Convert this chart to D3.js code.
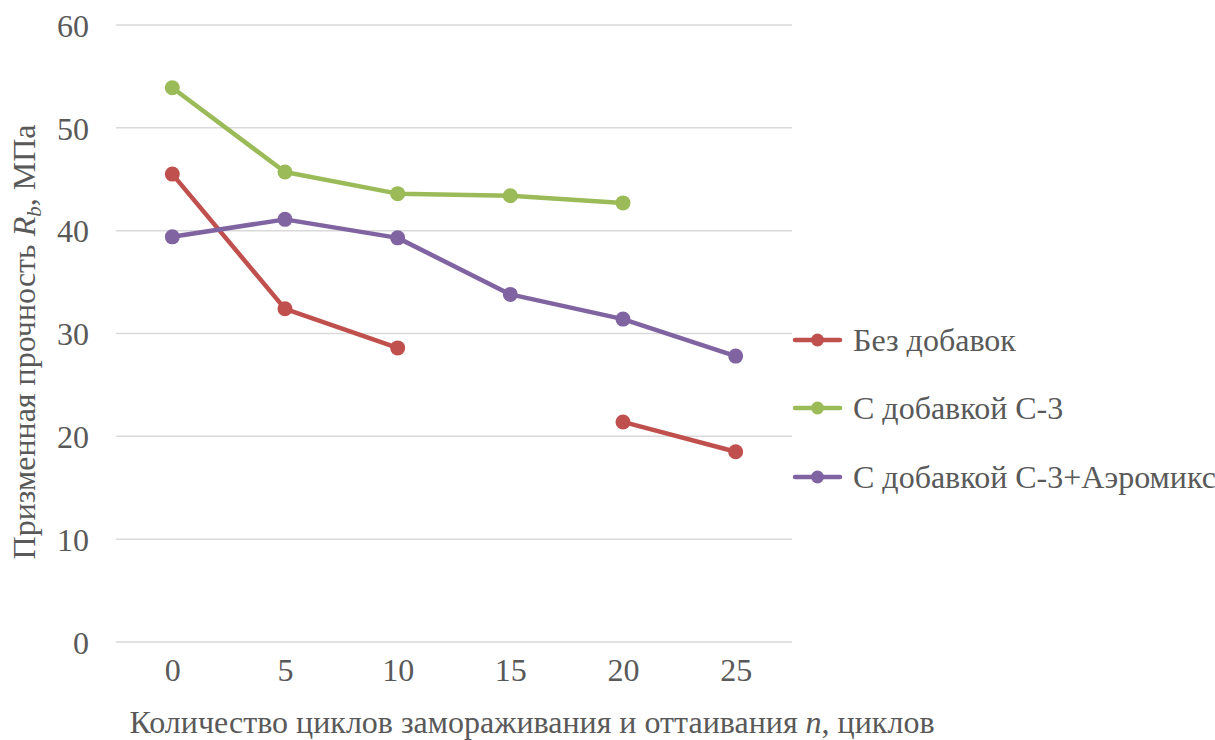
<!DOCTYPE html>
<html><head><meta charset="utf-8">
<script src="https://cdn.jsdelivr.net/npm/d3@7"></script>
<style>body{margin:0;background:#fff}svg{display:block}</style>
</head><body><svg id="c" width="1215" height="740"></svg>
<script>
const categories = ["0","5","10","15","20","25"];
const yTicks = [0,10,20,30,40,50,60];
const seriesNames = ["Без добавок","С добавкой С-3","С добавкой С-3+Аэромикс"];
const seriesColors = ["#C0504D","#9BBB59","#8064A2"];
const bezDobavok = [45.5,32.4,28.6,null,21.4,18.5];
const sDobavkoiC3 = [53.9,45.7,43.6,43.4,42.7,null];
const sDobavkoiC3Aero = [39.4,41.1,39.3,33.8,31.4,27.8];
const seriesValues = [bezDobavok,sDobavkoiC3,sDobavkoiC3Aero];

const FONT = "'Liberation Serif'";
const TXT = "#595959";
const FS = 32;
const svg = d3.select("#c");
const m = {l:116, r:792, t:25, b:642};
const x = d3.scalePoint().domain(categories).range([m.l,m.r]).padding(0.5);
const y = d3.scaleLinear().domain([0,60]).range([m.b,m.t]);

svg.append("g").selectAll("line").data(yTicks).join("line")
  .attr("x1",m.l).attr("x2",m.r).attr("y1",d=>y(d)).attr("y2",d=>y(d))
  .attr("stroke","#D9D9D9").attr("stroke-width",1.5);

const yAxis = d3.axisLeft(y).tickValues(yTicks).tickSize(0).tickPadding(0);
const gy = svg.append("g").attr("transform",`translate(${m.l-27},0)`).call(yAxis);
gy.select(".domain").remove();
gy.attr("font-family",null);
gy.selectAll("text").attr("font-size",FS).style("font-family",FONT).attr("fill",TXT).attr("dy","0.35em");

const xAxis = d3.axisBottom(x).tickSize(0).tickPadding(0);
const gx = svg.append("g").attr("transform",`translate(0,${m.b+16})`).call(xAxis);
gx.select(".domain").remove();
gx.attr("font-family",null);
gx.selectAll("text").attr("font-size",FS).style("font-family",FONT).attr("fill",TXT).attr("dy","0.71em");

const line = d3.line().defined(d=>d.v!=null).x(d=>x(d.c)).y(d=>y(d.v));
seriesValues.forEach((vals,i)=>{
  const pts = vals.map((v,j)=>({c:categories[j],v}));
  svg.append("path").datum(pts).attr("d",line).attr("fill","none")
    .attr("stroke",seriesColors[i]).attr("stroke-width",4.5).attr("stroke-linecap","round").attr("stroke-linejoin","round");
  svg.append("g").selectAll("circle").data(pts.filter(d=>d.v!=null)).join("circle")
    .attr("cx",d=>x(d.c)).attr("cy",d=>y(d.v)).attr("r",7.5).attr("fill",seriesColors[i]);
});

const legY = [340,408,477];
seriesNames.forEach((n,i)=>{
  const g = svg.append("g").attr("transform",`translate(795,${legY[i]})`);
  g.append("line").attr("x1",0).attr("x2",45).attr("y1",0).attr("y2",0).attr("stroke",seriesColors[i]).attr("stroke-width",4.5).attr("stroke-linecap","round");
  g.append("circle").attr("cx",22.5).attr("cy",0).attr("r",6.5).attr("fill",seriesColors[i]);
  g.append("text").attr("x",58).attr("y",0).attr("dy","0.35em").attr("font-size",FS)
    .style("font-family",FONT).attr("fill",TXT).text(n);
});

const xt = svg.append("text").attr("x",532).attr("y",733).attr("text-anchor","middle")
  .attr("font-size",FS).style("font-family",FONT).attr("fill",TXT);
xt.append("tspan").text("Количество циклов замораживания и оттаивания ");
xt.append("tspan").attr("font-style","italic").text("n");
xt.append("tspan").text(", циклов");

const yt = svg.append("text").attr("transform","translate(35,342) rotate(-90)").attr("text-anchor","middle")
  .attr("font-size",FS).style("font-family",FONT).attr("fill",TXT);
yt.append("tspan").text("Призменная прочность ");
yt.append("tspan").attr("font-style","italic").text("R");
yt.append("tspan").attr("font-style","italic").attr("font-size",21).attr("dy",6).text("b");
yt.append("tspan").attr("dy",-6).text(", МПа");
</script></body></html>
